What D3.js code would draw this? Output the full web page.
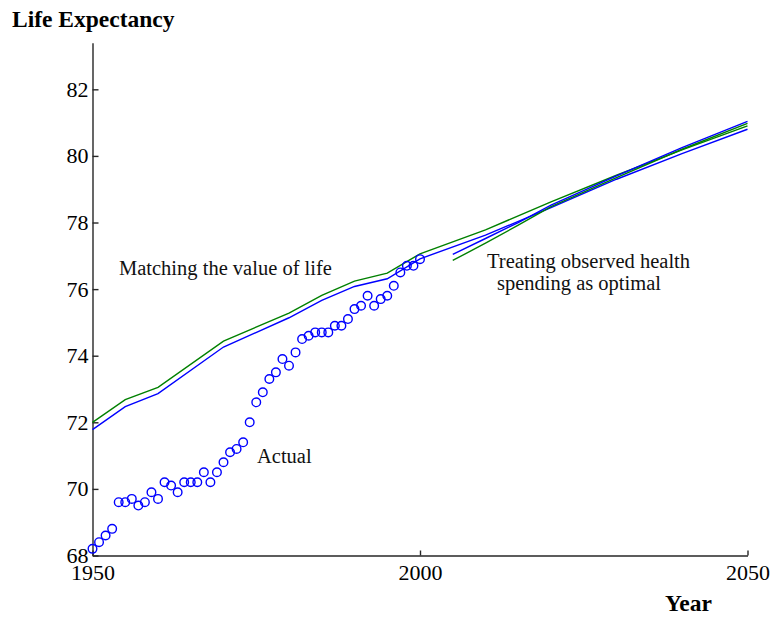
<!DOCTYPE html>
<html lang='en'>

<head>
   <meta charset='UTF-8'>
   <script src="https://cdnjs.cloudflare.com/ajax/libs/d3/7.8.5/d3.min.js"></script>
   <title>Life Expectancy</title>
   <style>
      body {
         margin: 0;
         background: white;
      }

      svg {
         display: block;
         font-family: 'Liberation Serif', 'Times New Roman', serif;
      }

      .axis path,
      .axis line {
         stroke: #262626;
         stroke-width: 1.4;
      }

      .axis text {
         font-family: 'Liberation Serif', serif;
         font-size: 22px;
         fill: #000;
      }

      .label {
         font-weight: bold;
         font-size: 23.5px;
         fill: #000;
      }

      .note {
         font-size: 20.5px;
         fill: #111;
      }
   </style>
</head>

<body>
   <svg id='chart'></svg>

   <script>
      'use strict'

      // actual life expectancy, one circle per year
      const actualYears = d3.range(1950, 2001)
      const actualValues = [68.2, 68.4, 68.6, 68.8, 69.6, 69.6, 69.7, 69.5, 69.6, 69.9,
         69.7, 70.2, 70.1, 69.9, 70.2, 70.2, 70.2, 70.5, 70.2, 70.5,
         70.8, 71.1, 71.2, 71.4, 72.0, 72.6, 72.9, 73.3, 73.5, 73.9,
         73.7, 74.1, 74.5, 74.6, 74.7, 74.7, 74.7, 74.9, 74.9, 75.1,
         75.4, 75.5, 75.8, 75.5, 75.7, 75.8, 76.1, 76.5, 76.7, 76.7, 76.9]

      // "matching the value of life" runs
      const matchYears = [1950, 1955, 1960, 1970, 1980, 1985, 1990, 1995, 2000, 2010, 2020, 2030, 2040, 2050]
      const matchGreen = [72.0, 72.68, 73.05, 74.44, 75.28, 75.81, 76.24, 76.48, 77.06, 77.78, 78.62, 79.42, 80.18, 80.9]
      const matchBlue = [71.78, 72.47, 72.86, 74.26, 75.14, 75.66, 76.08, 76.31, 76.91, 77.62, 78.45, 79.3, 80.07, 80.8]

      // "treating observed health spending as optimal" runs
      const treatYears = [2005, 2010, 2015, 2020, 2030, 2040, 2050]
      const treatBlue = [77.04, 77.52, 78.0, 78.52, 79.4, 80.25, 81.04]
      const treatGreen = [76.86, 77.38, 77.92, 78.48, 79.35, 80.2, 80.98]

      const xTicks = [1950, 2000, 2050]
      const yTicks = [68, 70, 72, 74, 76, 78, 80, 82]

      const width = 776,
         height = 617

      const svg = d3.select('svg')
         .attr('width', width)
         .attr('height', height)

      const x = d3.scaleLinear([1950, 2050], [92.5, 747.5])
      const y = d3.scaleLinear([68, 83.4], [555.5, 42.7])

      svg.append('g')
         .attr('class', 'axis')
         .attr('transform', `translate(0,${y(68)})`)
         .call(d3.axisBottom(x).tickValues(xTicks).tickFormat(d3.format('d'))
            .tickSizeInner(-5).tickSizeOuter(0).tickPadding(9))

      svg.append('g')
         .attr('class', 'axis')
         .attr('transform', `translate(${x(1950)},0)`)
         .call(d3.axisLeft(y).tickValues(yTicks).tickFormat(d3.format('d'))
            .tickSizeInner(-6).tickSizeOuter(0).tickPadding(4))

      const line = d3.line()
         .x(d => x(d[0]))
         .y(d => y(d[1]))

      const series = [
         { years: matchYears, values: matchGreen, color: '#008000' },
         { years: matchYears, values: matchBlue, color: '#0000ff' },
         { years: treatYears, values: treatGreen, color: '#008000' },
         { years: treatYears, values: treatBlue, color: '#0000ff' }
      ]

      svg.selectAll('path.run')
         .data(series)
         .enter()
         .append('path')
         .attr('class', 'run')
         .attr('d', s => line(s.years.map((yr, i) => [yr, s.values[i]])))
         .attr('fill', 'none')
         .attr('stroke', s => s.color)
         .attr('stroke-width', 1.4)

      svg.selectAll('circle')
         .data(actualYears.map((yr, i) => [yr, actualValues[i]]))
         .enter()
         .append('circle')
         .attr('cx', d => x(d[0]))
         .attr('cy', d => y(d[1]))
         .attr('r', 4.3)
         .attr('fill', 'none')
         .attr('stroke', '#0000ff')
         .attr('stroke-width', 1.4)

      svg.append('text').attr('class', 'label')
         .attr('x', 12).attr('y', 27)
         .text('Life Expectancy')

      svg.append('text').attr('class', 'label')
         .attr('x', 665).attr('y', 611)
         .text('Year')

      const notes = [
         ['Matching the value of life', 119, 275],
         ['Actual', 257, 463],
         ['Treating observed health', 487, 268],
         ['spending as optimal', 497, 290]
      ]

      svg.selectAll('text.note')
         .data(notes)
         .enter()
         .append('text')
         .attr('class', 'note')
         .attr('x', d => d[1])
         .attr('y', d => d[2])
         .text(d => d[0])
   </script>
</body>

</html>
